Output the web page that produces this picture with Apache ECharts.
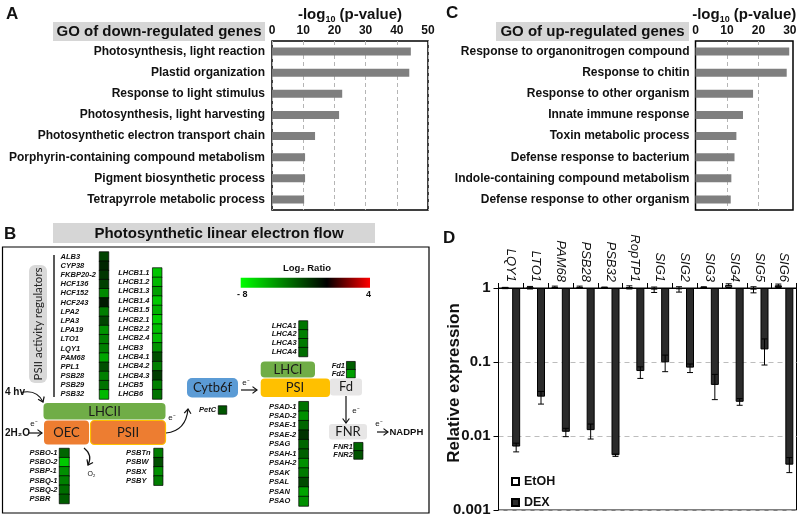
<!DOCTYPE html>
<html><head><meta charset="utf-8">
<script src="https://cdn.jsdelivr.net/npm/echarts@6/dist/echarts.min.js"></script>
<style>html,body{margin:0;padding:0;background:#fff}#c{width:800px;height:517px}</style>
</head><body><div id="c"></div>
<script>
// ---------- Panel A data ----------
const downTerms = ['Photosynthesis, light reaction','Plastid organization','Response to light stimulus','Photosynthesis, light harvesting','Photosynthetic electron transport chain','Porphyrin-containing compound metabolism','Pigment biosynthetic process','Tetrapyrrole metabolic process'];
const downValues = [44.5, 44.0, 22.5, 21.5, 13.8, 10.6, 10.6, 10.3];
// ---------- Panel C data ----------
const upTerms = ['Response to organonitrogen compound','Response to chitin','Response to other organism','Innate immune response','Toxin metabolic process','Defense response to bacterium','Indole-containing compound metabolism','Defense response to other organism'];
const upValues = [29.8, 29.0, 18.3, 15.1, 13.0, 12.4, 11.4, 11.2];
// ---------- Panel D data ----------
const dGenes = ['LQY1','LTO1','PAM68','PSB28','PSB32','RopTP1','SIG1','SIG2','SIG3','SIG4','SIG5','SIG6'];
const etohValues = [1.0, 1.01, 1.03, 1.03, 1.01, 1.02, 0.95, 0.96, 1.02, 1.1, 0.95, 1.09];
const etohErrLow = [0.98, 0.97, 1.0, 1.0, 0.99, 0.97, 0.87, 0.88, 1.0, 1.06, 0.86, 1.05];
const etohErrHigh = [1.02, 1.05, 1.06, 1.06, 1.03, 1.07, 1.03, 1.04, 1.04, 1.14, 1.04, 1.13];
const dexValues = [0.0072, 0.034, 0.0114, 0.012, 0.0055, 0.0755, 0.099, 0.084, 0.049, 0.029, 0.148, 0.0041];
const dexErrLow = [0.0061, 0.027, 0.0098, 0.0091, 0.0053, 0.060, 0.074, 0.072, 0.031, 0.026, 0.091, 0.0032];
const dexErrHigh = [0.0080, 0.040, 0.0127, 0.0145, 0.0057, 0.086, 0.124, 0.094, 0.068, 0.032, 0.205, 0.0051];
// ---------- Panel B data (log2 ratio) ----------
const regGenes = ['ALB3','CYP38','FKBP20-2','HCF136','HCF152','HCF243','LPA2','LPA3','LPA19','LTO1','LQY1','PAM68','PPL1','PSB28','PSB29','PSB32'];
const regRatio = [-2.1,-1.2,-1.7,-2.0,-4.3,-0.8,-3.9,-2.2,-4.6,-4.0,-4.0,-5.2,-2.5,-4.0,-3.6,-5.8];
const lhcbGenes = ['LHCB1.1','LHCB1.2','LHCB1.3','LHCB1.4','LHCB1.5','LHCB2.1','LHCB2.2','LHCB2.4','LHCB3','LHCB4.1','LHCB4.2','LHCB4.3','LHCB5','LHCB6'];
const lhcbRatio = [-6.2,-5.8,-5.0,-6.3,-5.6,-6.5,-6.0,-5.9,-4.6,-2.5,-4.0,-1.9,-4.0,-3.6];
const psboGenes = ['PSBO-1','PSBO-2','PSBP-1','PSBQ-1','PSBQ-2','PSBR'];
const psboRatio = [-3.2,-6.3,-4.5,-4.0,-3.4,-2.9];
const psbtGenes = ['PSBTn','PSBW','PSBX','PSBY'];
const psbtRatio = [-3.9,-2.5,-4.5,-3.9];
const petGenes = ['PetC'];
const petRatio = [-2.7];
const lhcaGenes = ['LHCA1','LHCA2','LHCA3','LHCA4'];
const lhcaRatio = [-3.7,-4.0,-3.8,-3.4];
const fdGenes = ['Fd1','Fd2'];
const fdRatio = [-3.0,-5.0];
const psaGenes = ['PSAD-1','PSAD-2','PSAE-1','PSAE-2','PSAG','PSAH-1','PSAH-2','PSAK','PSAL','PSAN','PSAO'];
const psaRatio = [-3.6,-4.5,-3.2,-1.6,-3.2,-3.0,-4.5,-3.8,-2.3,-5.1,-4.5];
const fnrGenes = ['FNR1','FNR2'];
const fnrRatio = [-3.2,-2.6];
const ratioRange = [-8, 4];

// ---------- layout ----------
const FF = '"Liberation Sans", Arial, sans-serif';
const BOXF = 'Lato, "Liberation Sans", sans-serif';
const heatGroups = [
  {genes: regGenes, ratio: regRatio, box: [99.5, 252, 9, 147], margin: 39},
  {genes: lhcbGenes, ratio: lhcbRatio, box: [152.7, 268, 9, 131], margin: 34.5},
  {genes: psboGenes, ratio: psboRatio, box: [59.5, 448.5, 9.5, 55], margin: 30},
  {genes: psbtGenes, ratio: psbtRatio, box: [154, 448.5, 8.7, 36.7], margin: 28},
  {genes: petGenes, ratio: petRatio, box: [218.5, 406, 8, 8], margin: 19.5},
  {genes: lhcaGenes, ratio: lhcaRatio, box: [299, 321, 8.5, 35.5], margin: 27.3},
  {genes: fdGenes, ratio: fdRatio, box: [346.7, 361.7, 8.3, 16], margin: 15},
  {genes: psaGenes, ratio: psaRatio, box: [299, 401.7, 9.3, 104.3], margin: 30},
  {genes: fnrGenes, ratio: fnrRatio, box: [354, 442.7, 8.7, 16.3], margin: 20.7}
];

const chart = echarts.init(document.getElementById('c'), null, {renderer: 'canvas', width: 800, height: 517});

const nameRich = {
  sub: {fontSize: 9, fontWeight: 'bold', fontFamily: FF, color: '#111', lineHeight: 19, verticalAlign: 'bottom'}
};
const boldLab = {fontFamily: FF, fontWeight: 'bold', fontSize: 12, color: '#111'};

const grids = [
  {left: 272, top: 41, width: 156, height: 169, show: true, borderColor: '#000', borderWidth: 1.5, backgroundColor: 'transparent', containLabel: false, outerBoundsMode: 'none'},
  {left: 695.5, top: 41, width: 97.5, height: 169, show: true, borderColor: '#000', borderWidth: 1.5, backgroundColor: 'transparent', containLabel: false, outerBoundsMode: 'none'},
  {left: 498.5, top: 288, width: 298, height: 222, show: true, borderColor: '#000', borderWidth: 1, backgroundColor: 'transparent', containLabel: false, outerBoundsMode: 'none'}
];
const xAxes = [
  {gridIndex: 0, type: 'value', position: 'top', min: 0, max: 50, interval: 10,
   axisLine: {show: false}, axisTick: {show: false},
   axisLabel: Object.assign({margin: 4}, boldLab),
   splitLine: {show: true, lineStyle: {type: [4, 3], color: '#b5b5b5', width: 1}},
   name: '-log{sub|10} (p-value)', nameLocation: 'middle', nameGap: 17,
   nameTextStyle: {fontFamily: FF, fontSize: 15, fontWeight: 'bold', color: '#111', rich: nameRich}},
  {gridIndex: 1, type: 'value', position: 'top', min: 0, max: 31, interval: 10,
   axisLine: {show: false}, axisTick: {show: false},
   axisLabel: Object.assign({margin: 4, showMaxLabel: false}, boldLab),
   splitLine: {show: true, lineStyle: {type: [4, 3], color: ['rgba(0,0,0,0)', '#b5b5b5', '#b5b5b5', 'rgba(0,0,0,0)', 'rgba(0,0,0,0)'], width: 1}},
   name: '-log{sub|10} (p-value)', nameLocation: 'middle', nameGap: 17,
   nameTextStyle: {fontFamily: FF, fontSize: 15, fontWeight: 'bold', color: '#111', rich: nameRich}},
  {gridIndex: 2, type: 'category', data: dGenes, position: 'top',
   axisLine: {show: true, onZero: false, lineStyle: {color: '#000', width: 1}},
   axisTick: {show: true, length: 5, lineStyle: {color: '#000'}},
   axisLabel: {rotate: 90, margin: 6, interval: 0, fontFamily: FF, fontStyle: 'italic', fontSize: 13, color: '#111'},
   splitLine: {show: false}}
];
const yAxes = [
  {gridIndex: 0, type: 'category', data: downTerms, inverse: true,
   axisLine: {show: false}, axisTick: {show: false}, axisLabel: Object.assign({margin: 7, interval: 0}, boldLab)},
  {gridIndex: 1, type: 'category', data: upTerms, inverse: true,
   axisLine: {show: false}, axisTick: {show: false}, axisLabel: Object.assign({margin: 6, interval: 0}, boldLab)},
  {gridIndex: 2, type: 'log', logBase: 10, min: 0.001, max: 1,
   axisLine: {show: true, lineStyle: {color: '#000', width: 1}},
   axisTick: {show: true, length: 5, lineStyle: {color: '#000'}},
   minorTick: {show: false},
   axisLabel: {margin: 8, fontFamily: FF, fontWeight: 'bold', fontSize: 15, color: '#111',
     formatter: v => { const e = Math.round(Math.log10(v)); return e === 0 ? '1' : Math.pow(10, e).toFixed(-e); }},
   splitLine: {show: true, lineStyle: {type: [5, 4], color: '#bdbdbd', width: 1}},
   name: 'Relative expression', nameLocation: 'middle', nameRotate: 90, nameGap: 36, nameMoveOverlap: false,
   nameTextStyle: {fontFamily: FF, fontWeight: 'bold', fontSize: 17, color: '#111', padding: [0, 0, 0, 32]}}
];

const series = [
  {type: 'bar', xAxisIndex: 0, yAxisIndex: 0, data: downValues, barWidth: 8, itemStyle: {color: '#7f7f7f'}, silent: true},
  {type: 'bar', xAxisIndex: 1, yAxisIndex: 1, data: upValues, barWidth: 8, itemStyle: {color: '#7f7f7f'}, silent: true},
  {type: 'bar', name: 'EtOH', xAxisIndex: 2, yAxisIndex: 2, data: etohValues, barWidth: 7, barGap: '50%', clip: false,
   itemStyle: {color: '#ffffff', borderColor: '#000', borderWidth: 1}, silent: true, z: 3},
  {type: 'bar', name: 'DEX', xAxisIndex: 2, yAxisIndex: 2, data: dexValues, barWidth: 8, barGap: '50%', clip: false,
   itemStyle: {color: '#2b2b2b', borderColor: '#000', borderWidth: 1}, silent: true, z: 3}
];
function errSeries(low, high, off) {
  return {type: 'custom', xAxisIndex: 2, yAxisIndex: 2, clip: false, silent: true, z: 5,
    data: low.map((v, i) => [i, v, high[i]]),
    renderItem: (params, api) => {
      const lo = api.coord([api.value(0), api.value(1)]);
      const hi = api.coord([api.value(0), api.value(2)]);
      const x = lo[0] + off, c = 3;
      const st = {stroke: '#000', lineWidth: 1};
      return {type: 'group', children: [
        {type: 'line', shape: {x1: x, y1: lo[1], x2: x, y2: hi[1]}, style: st},
        {type: 'line', shape: {x1: x - c, y1: lo[1], x2: x + c, y2: lo[1]}, style: st},
        {type: 'line', shape: {x1: x - c, y1: hi[1], x2: x + c, y2: hi[1]}, style: st}
      ]};
    }};
}
series.push(errSeries(etohErrLow, etohErrHigh, -5.75));
series.push(errSeries(dexErrLow, dexErrHigh, 5.25));

const heatSeriesIdx = [];
heatGroups.forEach((g, k) => {
  const gi = 3 + k;
  grids.push({left: g.box[0], top: g.box[1], width: g.box[2], height: g.box[3], show: false, containLabel: false, outerBoundsMode: 'none'});
  xAxes.push({gridIndex: gi, type: 'category', data: [''], show: false});
  yAxes.push({gridIndex: gi, type: 'category', data: g.genes, inverse: true,
    axisLine: {show: false}, axisTick: {show: false}, splitLine: {show: false},
    axisLabel: {align: 'left', margin: g.margin, interval: 0, fontFamily: FF, fontWeight: 'bold', fontStyle: 'italic', fontSize: 7.5, color: '#111'}});
  heatSeriesIdx.push(series.length);
  series.push({type: 'heatmap', xAxisIndex: gi, yAxisIndex: gi, silent: true,
    data: g.ratio.map((v, i) => [0, i, v]),
    itemStyle: {borderColor: 'rgba(0,0,0,0.7)', borderWidth: 1}, emphasis: {disabled: true}});
});

// ---------- static drawing (panel B diagram, headers) ----------
function T(x, y, text, size, o) {
  o = o || {};
  const font = (o.italic ? 'italic ' : '') + (o.bold ? 'bold ' : '') + size + 'px ' + (o.family || FF);
  return {type: 'text', x: x, y: y, rotation: o.rot || 0, z: 50, silent: true,
    style: {text: text, fill: o.color || '#111', font: font,
      align: o.align || 'center', verticalAlign: o.va || 'middle',
      textAlign: o.align || 'center', textVerticalAlign: o.va || 'middle'}};
}
function R(x, y, w, h, fill, r, stroke, lw) {
  return {type: 'rect', z: 10, silent: true, shape: {x: x, y: y, width: w, height: h, r: r || 0},
    style: {fill: fill, stroke: stroke || null, lineWidth: lw || 0}};
}
function L(x1, y1, x2, y2, lw, col) {
  return {type: 'line', z: 20, silent: true, shape: {x1: x1, y1: y1, x2: x2, y2: y2}, style: {stroke: col || '#111', lineWidth: lw || 1}};
}
function head(tx, ty, dx, dy, s) {
  const l = Math.hypot(dx, dy), ux = dx / l, uy = dy / l, px = -uy, py = ux;
  return {type: 'polyline', z: 20, silent: true,
    shape: {points: [[tx - ux * s + px * s * 0.75, ty - uy * s + py * s * 0.75], [tx, ty], [tx - ux * s - px * s * 0.75, ty - uy * s - py * s * 0.75]]},
    style: {stroke: '#111', lineWidth: 1.2, fill: null}};
}
function curve(x1, y1, cx, cy, x2, y2) {
  return [{type: 'bezierCurve', z: 20, silent: true, shape: {x1: x1, y1: y1, cpx1: cx, cpy1: cy, x2: x2, y2: y2},
    style: {stroke: '#111', lineWidth: 1.2, fill: null}}, head(x2, y2, x2 - cx, y2 - cy, 4.5)];
}
function sArrow(x1, y1, x2, y2) {
  return [L(x1, y1, x2, y2, 1.2), head(x2, y2, x2 - x1, y2 - y1, 4.5)];
}

const G = [];
// panel letters
G.push(T(6, 14, 'A', 17, {bold: true, align: 'left'}));
G.push(T(446, 13, 'C', 17, {bold: true, align: 'left'}));
G.push(T(4, 234, 'B', 17, {bold: true, align: 'left'}));
G.push(T(443, 238, 'D', 17, {bold: true, align: 'left'}));
// GO headers
G.push(R(53, 22, 212, 19, '#d6d6d6'));
G.push(T(159, 31.5, 'GO of down-regulated genes', 15, {bold: true}));
G.push(R(496, 22, 193, 19, '#d6d6d6'));
G.push(T(592.5, 31.5, 'GO of up-regulated genes', 15, {bold: true}));
// B title and frame
G.push(R(53, 223, 322, 20, '#d6d6d6'));
G.push(T(219, 233.5, 'Photosynthetic linear electron flow', 15, {bold: true}));
G.push(R(2.5, 247, 426.5, 266, null, 0, '#000', 1.2));
// regulators
G.push(R(29, 265, 18, 118, '#d9d9d9', 6));
G.push(T(38.5, 324, 'PSII activity regulators', 11.5, {rot: Math.PI / 2, color: '#222', family: BOXF}));
G.push(L(54, 255, 54, 397, 1.5, '#222'));
// colour bar
G.push(T(307, 268, 'Log\u2082 Ratio', 9.5, {bold: true}));
G.push({type: 'rect', z: 10, silent: true, shape: {x: 240.7, y: 277.7, width: 129.3, height: 10},
  style: {fill: {type: 'linear', x: 0, y: 0, x2: 1, y2: 0, colorStops: [
    {offset: 0, color: '#00ff00'}, {offset: (0 - ratioRange[0]) / (ratioRange[1] - ratioRange[0]), color: '#000000'}, {offset: 1, color: '#ff0000'}]}}});
G.push(T(237, 295, '- 8', 9, {bold: true, align: 'left'}));
G.push(T(371, 295, '4', 9, {bold: true, align: 'right'}));
// light / water inputs
G.push(T(5, 392, '4 hv', 10, {bold: true, align: 'left'}));
G.push(...curve(21, 392.5, 37, 389, 43, 402));
G.push(T(5, 433, '2H\u2082O', 10, {bold: true, align: 'left'}));
G.push(...sArrow(28, 433, 42, 433));
G.push(T(34, 423.5, 'e\u207B', 8));
// PSII complex
G.push(R(43.5, 403, 122, 16.5, '#70ad47', 4));
G.push(T(104.5, 411.5, 'LHCII', 13, {family: BOXF, color: '#1a1a1a'}));
G.push(R(44, 420.5, 45, 24, '#ed7d31', 4));
G.push(T(66.5, 432.5, 'OEC', 13, {family: BOXF, color: '#1a1a1a'}));
G.push(R(90.5, 420.5, 75, 24, '#ed7d31', 4, '#ffc000', 1.2));
G.push(T(128, 432.5, 'PSII', 13, {family: BOXF, color: '#1a1a1a'}));
G.push(...curve(84, 448, 93, 455, 88, 465));
G.push(T(91.5, 474, 'O\u2082', 7));
// to Cytb6f
G.push(...curve(166, 433, 186, 431, 188, 409));
G.push(T(172, 418, 'e\u207B', 8));
G.push(R(187, 378, 51, 19.5, '#5b9bd5', 5));
G.push(T(212.5, 388, 'Cytb6f', 13, {family: BOXF, color: '#1a1a1a'}));
G.push(...sArrow(241, 390, 257, 390));
G.push(T(246, 383, 'e\u207B', 8));
// PSI
G.push(R(260.7, 361.5, 54.3, 16, '#70ad47', 4));
G.push(T(288, 369.5, 'LHCI', 13, {family: BOXF, color: '#1a1a1a'}));
G.push(R(260.7, 378.5, 69.3, 18.5, '#ffc000', 4));
G.push(T(295, 388, 'PSI', 13, {family: BOXF, color: '#1a1a1a'}));
G.push(R(330, 378.5, 32, 17, '#e7e6e6', 3));
G.push(T(346, 387, 'Fd', 13, {family: BOXF, color: '#1a1a1a'}));
G.push(...sArrow(346, 396, 346, 423));
G.push(T(356, 411, 'e\u207B', 8));
G.push(R(329, 424, 38, 15.5, '#e7e6e6', 3));
G.push(T(348, 432, 'FNR', 13, {family: BOXF, color: '#1a1a1a'}));
G.push(T(379, 424, 'e\u207B', 8));
G.push(...sArrow(377, 432, 388, 432));
G.push(T(389.5, 432, 'NADPH', 9.5, {bold: true, align: 'left'}));

const option = {
  animation: false,
  backgroundColor: '#fff',
  textStyle: {fontFamily: FF},
  grid: grids,
  xAxis: xAxes,
  yAxis: yAxes,
  visualMap: {type: 'continuous', show: false, min: ratioRange[0], max: ratioRange[1], seriesIndex: heatSeriesIdx,
    inRange: {color: ['#00ff00', '#00bf00', '#008000', '#004000', '#000000', '#800000', '#ff0000']}},
  legend: {orient: 'vertical', left: 511, top: 475, padding: 0, itemWidth: 7, itemHeight: 7, itemGap: 8,
    icon: 'rect', data: ['EtOH', 'DEX'], selectedMode: false,
    textStyle: {fontFamily: FF, fontWeight: 'bold', fontSize: 12.5, color: '#111'}},
  series: series,
  graphic: {elements: G}
};
chart.setOption(option);
</script>
</body></html>
